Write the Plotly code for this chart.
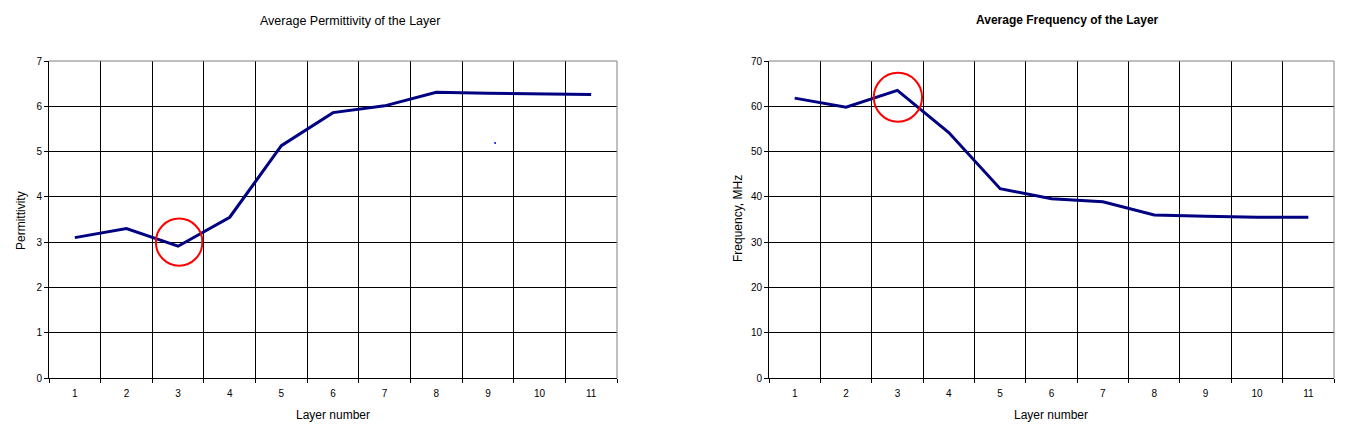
import plotly.graph_objects as go

layers = [1, 2, 3, 4, 5, 6, 7, 8, 9, 10, 11]
permittivity = [3.1, 3.3, 2.91, 3.55, 5.13, 5.86, 6.01, 6.31, 6.29, 6.28, 6.26]
frequency = [61.8, 59.8, 63.5, 54.2, 41.8, 39.6, 38.9, 36.0, 35.7, 35.5, 35.5]
stray_x = [9.14]
stray_y = [5.19]
perm_ticks = [0, 1, 2, 3, 4, 5, 6, 7]
freq_ticks = [0, 10, 20, 30, 40, 50, 60, 70]
boundaries = [0.5 + i for i in range(12)]

W, H = 1353, 437
NAVY = "#000080"
FONT = "Liberation Sans, Arial, sans-serif"

fig = go.Figure()
fig.add_trace(go.Scatter(x=layers, y=permittivity, mode="lines",
                         line=dict(color=NAVY, width=3), xaxis="x", yaxis="y",
                         showlegend=False))
fig.add_trace(go.Scatter(x=stray_x, y=stray_y, mode="markers",
                         marker=dict(color="#0000ff", size=2), xaxis="x", yaxis="y",
                         showlegend=False))
fig.add_trace(go.Scatter(x=layers, y=frequency, mode="lines",
                         line=dict(color=NAVY, width=3), xaxis="x2", yaxis="y2",
                         showlegend=False))

ydom = [(H - 378) / H, (H - 61) / H]
xdom1 = [49 / W, 617 / W]
xdom2 = [769 / W, 1334 / W]

def xaxis(dom, anchor):
    return dict(domain=dom, anchor=anchor, range=[0.5, 11.5], tickvals=layers,
                ticktext=[str(v) for v in layers], showgrid=False, ticks="",
                showline=True, linecolor="black", linewidth=1, zeroline=False,
                tickfont=dict(family=FONT, size=10, color="black"),
                minor=dict(tickmode="array", tickvals=boundaries, showgrid=True,
                           gridcolor="black", gridwidth=1, ticks="outside",
                           ticklen=4, tickcolor="black"),
                ticklabelstandoff=6, automargin=False, fixedrange=True)

def yaxis(dom, anchor, rng, tv):
    return dict(domain=dom, anchor=anchor, range=rng, tickvals=tv,
                showgrid=True, gridcolor="black", gridwidth=1, ticks="outside",
                ticklen=4, tickcolor="black", showline=True, linecolor="black",
                linewidth=1, zeroline=False,
                tickfont=dict(family=FONT, size=10, color="black"),
                automargin=False, fixedrange=True)

fig.update_layout(
    width=W, height=H, autosize=False,
    margin=dict(l=0, r=0, t=0, b=0),
    paper_bgcolor="white", plot_bgcolor="white",
    xaxis=xaxis(xdom1, "y"),
    yaxis=yaxis(ydom, "x", [0, 7], perm_ticks),
    xaxis2=xaxis(xdom2, "y2"),
    yaxis2=yaxis(ydom, "x2", [0, 70], freq_ticks),
)

shapes = []
for xr, yr in (("x", "y"), ("x2", "y2")):
    shapes.append(dict(type="line", xref=xr + " domain", yref=yr + " domain",
                       x0=0, x1=1, y0=1, y1=1, line=dict(color="#808080", width=1)))
    shapes.append(dict(type="line", xref=xr + " domain", yref=yr + " domain",
                       x0=1, x1=1, y0=0, y1=1, line=dict(color="#808080", width=1)))
shapes.append(dict(type="circle", xref="x", yref="y", x0=2.57, x1=3.47,
                   y0=2.48, y1=3.52, line=dict(color="#ff0000", width=2)))
shapes.append(dict(type="circle", xref="x2", yref="y2", x0=2.54, x1=3.48,
                   y0=56.6, y1=67.4, line=dict(color="#ff0000", width=2)))
fig.update_layout(shapes=shapes)

ann = []
def a(text, x, y, size=12, angle=0):
    ann.append(dict(text=text, x=x / W, y=1 - y / H, xref="paper", yref="paper",
                    showarrow=False, xanchor="center", yanchor="middle",
                    textangle=angle, font=dict(family=FONT, size=size, color="black")))

a("Average Permittivity of the Layer", 350, 21, 12.5)
a("<b>Average Frequency of the Layer</b>", 1067, 20, 12)
a("Layer number", 333, 415, 12)
a("Layer number", 1051, 415, 12)
a("Permittivity", 21, 221, 12, angle=-90)
a("Frequency, MHz", 738, 219, 12, angle=-90)
fig.update_layout(annotations=ann)

fig.write_html("out.html", config={"displayModeBar": False, "staticPlot": True},
               post_script="document.body.style.margin='0';document.body.style.overflow='hidden';")
